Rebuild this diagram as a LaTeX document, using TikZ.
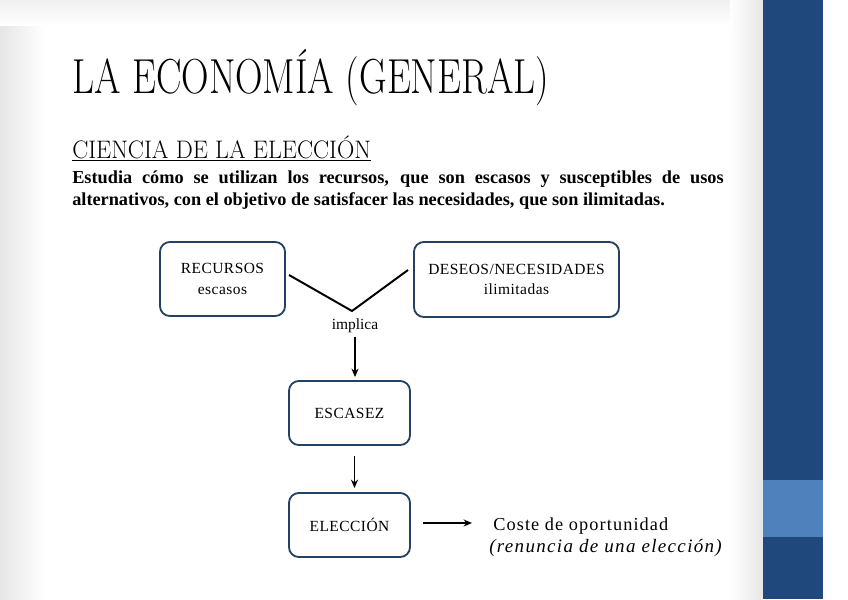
\documentclass[tikz,border=0pt]{standalone}
\usepackage{fontspec}
\setmainfont{LiberationSerif}[Extension=.ttf, UprightFont=*-Regular, BoldFont=*-Bold,
  ItalicFont=*-Italic, BoldItalicFont=*-BoldItalic]
\newfontfamily\titlefont{Latin Modern Roman}
\usepackage{tikz}
\usetikzlibrary{arrows.meta, positioning, calc}
\definecolor{barblue}{RGB}{31,73,125}
\definecolor{barlight}{RGB}{79,129,189}
\definecolor{boxline}{RGB}{36,64,98}
\definecolor{slidegray}{RGB}{230,230,230}
\tikzset{
  block/.style={rectangle, draw=boxline, fill=white, align=center,
    line width=1.3pt, rounded corners=7pt, inner sep=2pt,
    font=\fontsize{11}{14.5}\selectfont\addfontfeatures{LetterSpace=3}},
  arrow/.style={-{Stealth[length=6pt,width=5pt]}, line width=1.1pt, color=black},
  line/.style={line width=1.4pt, color=black}
}
\hyphenpenalty=10000
\begin{document}
\begin{tikzpicture}[x=0.025cm, y=-0.025cm]
    % slide background
    \useasboundingbox (0,0) rectangle (848,599);
    \fill[white] (0,0) rectangle (848,599);
    \shade[left color=slidegray, right color=white] (0,0) rectangle (45,599);
    \shade[top color=slidegray!60, bottom color=white] (0,0) rectangle (763,25);
    \shade[left color=white, right color=slidegray] (730,0) rectangle (763,599);

    % side bar
    \fill[barblue] (763,0) rectangle (823,599);
    \fill[barlight] (763,480) rectangle (823,537);

    % title and text
    \node[anchor=base west, inner sep=0pt, xscale=0.775, transform shape,
      font=\titlefont\fontsize{35}{40}\selectfont] (title) at (72,93) {LA ECONOMÍA (GENERAL)};
    \node[anchor=base west, inner sep=0pt, xscale=0.95, transform shape,
      font=\titlefont\fontsize{18}{20}\selectfont] (subtitle) at (72,158) {\underline{CIENCIA DE LA ELECCIÓN}};
    \node[anchor=north west, inner sep=0pt, text width=16.28cm, align=justify,
      font=\fontsize{13}{15.6}\selectfont\bfseries] (intro) at (72,171)
      {Estudia cómo se utilizan los recursos, que son escasos y susceptibles de usos alternativos, con el objetivo de satisfacer las necesidades, que son ilimitadas.};

    % boxes
    \node[block, minimum width=3.125cm, minimum height=1.85cm] (recursos) at (222.5,279) {RECURSOS\\escasos};
    \node[block, minimum width=5.125cm, minimum height=1.875cm] (deseos) at (516.5,279.5) {DESEOS/NECESIDADES\\ilimitadas};
    \node[block, minimum width=3.025cm, minimum height=1.6cm] (escasez) at (349.5,413) {ESCASEZ};
    \node[block, minimum width=3.025cm, minimum height=1.6cm] (eleccion) at (349.5,525) {ELECCIÓN};

    % the V between both boxes
    \coordinate (vleft) at (289,275);
    \coordinate (vmid) at (352,311);
    \coordinate (vright) at (408,270);
    \draw[line] (vleft) -- (vmid) -- (vright);
    \node[font=\fontsize{11}{12}\selectfont, inner sep=1pt] (implica) at (355,326) {implica};

    % arrows
    \draw[arrow] ($(implica.south)+(0,2)$) -- ($(implica.south |- escasez.north)+(0,-3)$);
    \draw[arrow] ($(escasez.south)+(5,10)$) -- ($(eleccion.north)+(5,-4)$);
    \node[anchor=base west, inner sep=0pt,
      font=\fontsize{13}{14}\selectfont\addfontfeatures{LetterSpace=6}] (coste) at (493,530)
      {Coste de oportunidad};
    \node[anchor=base west, inner sep=0pt,
      font=\fontsize{13.5}{14}\selectfont\itshape\addfontfeatures{LetterSpace=7}] (renuncia) at (489,552)
      {(renuncia de una elección)};
    \coordinate (costein) at (472,523);
    \draw[arrow] ($(eleccion.east)+(12,-2)$) -- (costein);
\end{tikzpicture}
\end{document}
